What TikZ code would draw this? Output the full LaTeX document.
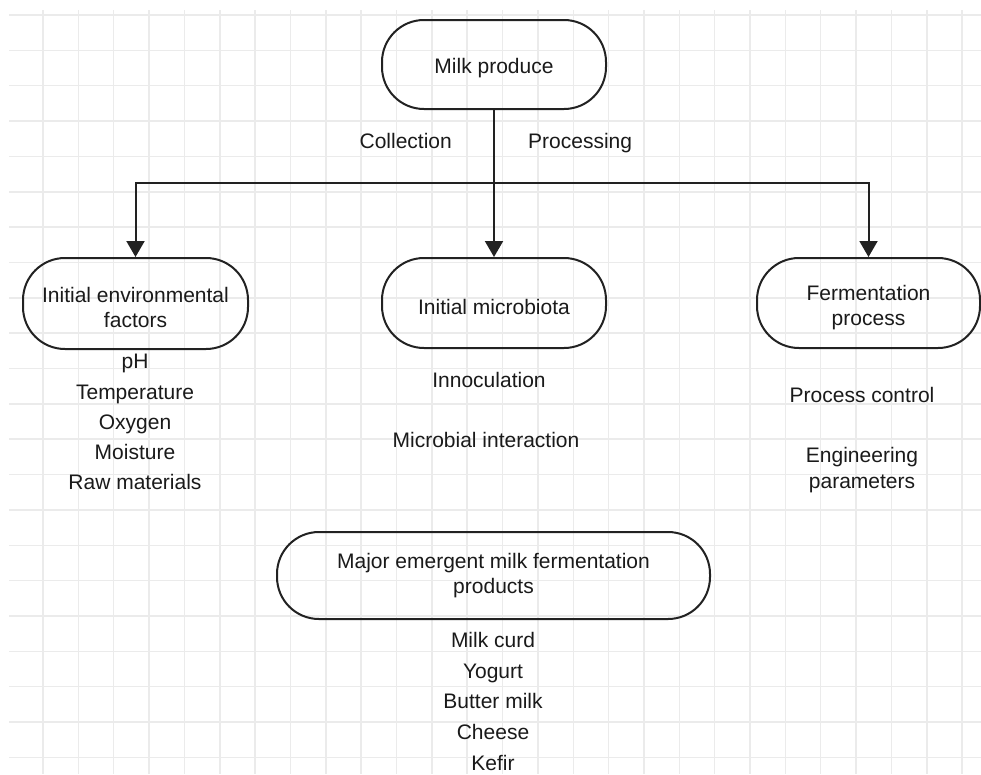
\documentclass[tikz,border=0pt]{standalone}
\usepackage{fontspec}
\setmainfont{Liberation Sans}
\usetikzlibrary{arrows.meta}
\definecolor{gridc}{HTML}{EBEBEB}
\definecolor{linec}{HTML}{222222}
\definecolor{txtc}{HTML}{1A1A1A}
\newcommand{\dn}{\rule{0pt}{24pt}}
\begin{document}
\begin{tikzpicture}[x=1pt,y=-1pt,
  font=\fontsize{21}{25}\selectfont,
  stadium/.style={draw=linec,line width=2pt,rounded corners=42pt,align=center,inner sep=0pt,text=txtc},
  lbl/.style={text=txtc,inner sep=0pt,text height=15pt,text depth=4.5pt},
  arr/.style={draw=linec,line width=2pt,-{Triangle[length=16pt,width=18pt]}},
  conn/.style={draw=linec,line width=2pt}]
\useasboundingbox (0,0) rectangle (981,774);
\fill[white] (0,0) rectangle (981,774);
% grid
\foreach \k in {0,...,21} {\draw[gridc,line width=1.5pt] (9,15+35.35*\k) -- (981,15+35.35*\k);}
\foreach \k in {0,...,26} {\draw[gridc,line width=1.5pt] (43+35.35*\k,10) -- (43+35.35*\k,774);}
% boxes
\node[stadium,minimum width=224pt,minimum height=89pt] (milk) at (494,64.5) {\rule{0pt}{23pt}Milk produce};
\node[stadium,minimum width=225pt,minimum height=91pt] (env) at (135.5,303.5) {\dn Initial environmental\\factors};
\node[stadium,minimum width=224pt,minimum height=90pt] (micro) at (494,303) {\rule{0pt}{23pt}Initial microbiota};
\node[stadium,minimum width=223pt,minimum height=90pt] (ferm) at (868.5,303) {\dn Fermentation\\process};
\node[stadium,minimum width=433pt,minimum height=87pt] (prod) at (493.5,575.5) {Major emergent milk fermentation\\products};
% connectors
\coordinate (j) at (494,183);
\draw[conn] (milk.south) -- (j);
\draw[arr] (j) -- (micro.north);
\draw[arr] (j) -| (env.north);
\draw[arr] (j) -| (ferm.north);
% connector labels
\node[lbl,anchor=east] (coll) at (452,143) {Collection};
\node[lbl,anchor=west] (proc) at (528,143) {Processing};
% left list
\node[lbl] (e1) at (135,363) {pH};
\node[lbl] (e2) at (135,394) {Temperature};
\node[lbl] (e3) at (135,424) {Oxygen};
\node[lbl] (e4) at (135,454) {Moisture};
\node[lbl] (e5) at (135,484) {Raw materials};
% middle list
\node[lbl] (m1) at (489,382) {Innoculation};
\node[lbl] (m2) at (486,442) {Microbial interaction};
% right list
\node[lbl] (f1) at (862,397) {Process control};
\node[lbl] (f2) at (862,457) {Engineering};
\node[lbl] (f3) at (862,483) {parameters};
% product list
\node[lbl] (p1) at (493,642) {Milk curd};
\node[lbl] (p2) at (493,673) {Yogurt};
\node[lbl] (p3) at (493,703) {Butter milk};
\node[lbl] (p4) at (493,734) {Cheese};
\node[lbl] (p5) at (493,765) {Kefir};
\end{tikzpicture}
\end{document}
